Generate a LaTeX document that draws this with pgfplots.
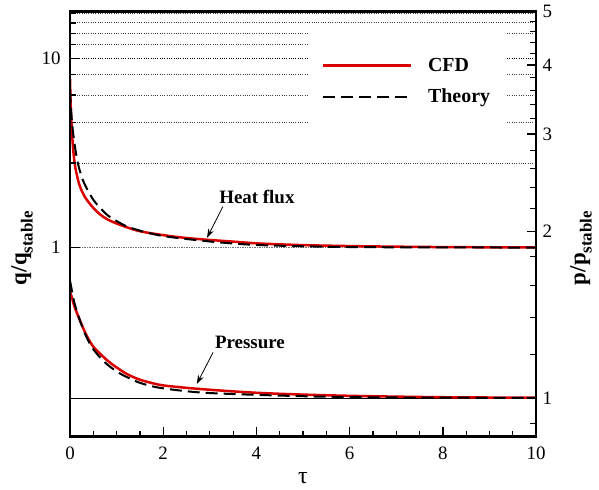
\documentclass[border=0pt]{standalone}
\usepackage{fontspec}
\setmainfont{Liberation Serif}
\usepackage{pgfplots}
\pgfplotsset{compat=1.18}
\usetikzlibrary{arrows.meta}
\definecolor{cfd}{rgb}{0.86,0,0}
\newcommand{\sublabel}[2]{\textbf{#1/#1}\raisebox{-0.28em}{\fontsize{17}{17}\selectfont\bfseries #2}}
\pgfplotsset{box/.style={at={(70bp,53.3bp)}, anchor=south west, scale only axis,
  width=466bp, height=425.2bp, xmin=0, xmax=10}}
\begin{document}
\begin{tikzpicture}
\useasboundingbox (0bp,0bp) rectangle (599bp,490bp);
% ---- data axis: heat flux (left scale)
\begin{axis}[box, hide axis, ymode=log, ymin=0.1, ymax=17.7,
  legend style={at={(0.533,0.9)}, anchor=north west, draw=none, fill=none,
    font=\fontsize{20}{20}\selectfont\bfseries, row sep=12bp,
    nodes={inner sep=2bp}},
  legend cell align=left,
  legend image code/.code={\draw[#1] (0bp,0bp) -- (88bp,0bp);},
  /tikz/every odd column/.append style={column sep=14bp},
]
\draw[black!75, line width=0.9bp, dash pattern=on 1bp off 1.3bp] (axis cs:0,17.2) -- (axis cs:10,17.2);
\draw[black!75, line width=0.9bp, dash pattern=on 1bp off 1.3bp] (axis cs:0,15.4) -- (axis cs:10,15.4);
\draw[black!75, line width=0.9bp, dash pattern=on 1bp off 1.3bp] (axis cs:0,13.6) -- (axis cs:5.1,13.6);
\draw[black!75, line width=0.9bp, dash pattern=on 1bp off 1.3bp] (axis cs:9.38,13.6) -- (axis cs:10,13.6);
\draw[black!75, line width=0.9bp, dash pattern=on 1bp off 1.3bp] (axis cs:0,11.8) -- (axis cs:5.1,11.8);
\draw[black, line width=0.9bp, dash pattern=on 1bp off 1.3bp] (axis cs:0,10) -- (axis cs:5.1,10);
\draw[black, line width=0.9bp, dash pattern=on 1bp off 1.3bp] (axis cs:9.38,10) -- (axis cs:10,10);
\draw[black!75, line width=0.9bp, dash pattern=on 1bp off 1.3bp] (axis cs:0,8.2) -- (axis cs:5.1,8.2);
\draw[black!75, line width=0.9bp, dash pattern=on 1bp off 1.3bp] (axis cs:9.38,8.2) -- (axis cs:10,8.2);
\draw[black!75, line width=0.9bp, dash pattern=on 1bp off 1.3bp] (axis cs:0,6.4) -- (axis cs:5.1,6.4);
\draw[black!75, line width=0.9bp, dash pattern=on 1bp off 1.3bp] (axis cs:9.38,6.4) -- (axis cs:10,6.4);
\draw[black!75, line width=0.9bp, dash pattern=on 1bp off 1.3bp] (axis cs:0,4.6) -- (axis cs:5.1,4.6);
\draw[black!75, line width=0.9bp, dash pattern=on 1bp off 1.3bp] (axis cs:9.38,4.6) -- (axis cs:10,4.6);
\draw[black!75, line width=0.9bp, dash pattern=on 1bp off 1.3bp] (axis cs:0,2.8) -- (axis cs:10,2.8);
\draw[black!55, line width=1.4bp, dash pattern=on 1bp off 0.7bp] (axis cs:0,1) -- (axis cs:10,1);
\addplot[cfd, line width=2.5bp, smooth] coordinates {
(0,7.8) (0.01,6.2) (0.02,5.2) (0.04,4.2) (0.06,3.5) (0.085,3.0) (0.12,2.6) (0.2,2.15)
(0.28,1.93) (0.36,1.79) (0.5,1.62) (0.64,1.5) (0.8,1.41) (1.0,1.34) (1.22,1.28)
(1.5,1.22) (1.93,1.17) (2.4,1.13) (2.93,1.10) (3.5,1.075) (4.08,1.05) (5.0,1.03)
(6.22,1.016) (7.5,1.008) (8.5,1.004) (10,1.002)};
\addlegendentry{CFD}
\addplot[black, line width=2bp, dash pattern=on 12bp off 6bp, smooth] coordinates {
(0,6.8) (0.02,5.5) (0.05,4.4) (0.1,3.5) (0.15,2.95) (0.2,2.6) (0.3,2.2)
(0.5,1.79) (0.7,1.57) (0.86,1.45) (1.2,1.3) (1.57,1.215) (2.0,1.15) (2.64,1.10)
(3.3,1.06) (4.08,1.03) (5.5,1.01) (7,1.003) (10,1.0)};
\addlegendentry{Theory}
\node[font=\fontsize{19}{19}\selectfont\bfseries] at (axis cs:4.01,1.858) {Heat flux};
\draw[-{Stealth[length=9bp,width=6bp]}, line width=0.8bp] (axis cs:3.28,1.645) -- (axis cs:2.94,1.125);
\node[font=\fontsize{19}{19}\selectfont\bfseries] at (axis cs:3.86,0.315) {Pressure};
\draw[-{Stealth[length=9bp,width=6bp]}, line width=0.8bp] (axis cs:3.07,0.279) -- (axis cs:2.72,0.19);
\end{axis}
% ---- data axis: pressure (right scale)
\begin{axis}[box, hide axis, ymode=log, ymin=0.851, ymax=5]
\draw[black, line width=0.7bp] (axis cs:0,1) -- (axis cs:10,1);
\addplot[cfd, line width=2.5bp, smooth] coordinates {
(0,1.55) (0.036,1.525) (0.1,1.46) (0.215,1.38) (0.35,1.3) (0.5,1.238) (0.7,1.19)
(0.86,1.158) (1.05,1.128) (1.22,1.105) (1.5,1.079) (1.93,1.056) (2.4,1.045) (2.79,1.038) (3.4,1.029) (4.08,1.021)
(5,1.014) (6.22,1.008) (8,1.003) (10,1.001)};
\addplot[black, line width=2bp, dash pattern=on 12bp off 6bp, smooth] coordinates {
(0,1.63) (0.05,1.55) (0.1,1.48) (0.215,1.38) (0.35,1.29) (0.5,1.225) (0.7,1.17) (0.86,1.139)
(1.05,1.11) (1.2,1.093) (1.5,1.065) (1.93,1.043) (2.8,1.023) (4.08,1.0125) (5.5,1.005) (7,1.002) (10,1.0)};
\end{axis}
% ---- frame with bottom and left ticks (empty axis)
\begin{axis}[box, ymode=log, ymin=0.1, ymax=17.7,
  axis line style={line width=2.6bp},
  xtick={0,2,4,6,8,10}, minor xtick={0.5,1,1.5,2.5,3,3.5,4.5,5,5.5,6.5,7,7.5,8.5,9,9.5},
  xtick pos=left, ytick pos=left, tick align=inside,
  major tick length=10bp, minor tick length=6bp,
  major tick style={line width=1.4bp, black},
  minor tick style={line width=1.2bp, black},
  ytick={1,10}, yticklabels={1,10},
  minor ytick={2.8,4.6,6.4,8.2,11.8,13.6,15.4,17.2},
  tick label style={font=\fontsize{19}{19}\selectfont},
  xticklabel style={yshift=-7bp},
  yticklabel style={xshift=-6bp},
  /pgf/number format/assume math mode=true]
\end{axis}
% ---- right ticks (empty axis)
\begin{axis}[box, ymode=log, ymin=0.851, ymax=5,
  axis line style={line width=2.6bp},
  xtick=\empty, ytick pos=right, tick align=inside,
  major tick length=9bp, minor tick length=6bp,
  major tick style={line width=1.4bp, black},
  minor tick style={line width=1.2bp, black},
  ytick={1,2,3,4,5}, yticklabels={1,2,3,4,5},
  minor ytick={0.9,1.2,1.4,1.6,1.8,2.2,2.4,2.6,2.8,3.2,3.4,3.6,3.8,4.2,4.4,4.6,4.8},
  tick label style={font=\fontsize{19}{19}\selectfont},
  yticklabel style={xshift=3bp}]
\end{axis}
\node[rotate=90, font=\fontsize{23}{23}\selectfont] at (22bp,242bp) {\sublabel{q}{stable}};
\node[rotate=90, font=\fontsize{23}{23}\selectfont] at (581bp,242bp) {\sublabel{p}{stable}};
\node[font=\fontsize{24}{24}\selectfont] at (303bp,12bp) {τ};
\end{tikzpicture}
\end{document}
